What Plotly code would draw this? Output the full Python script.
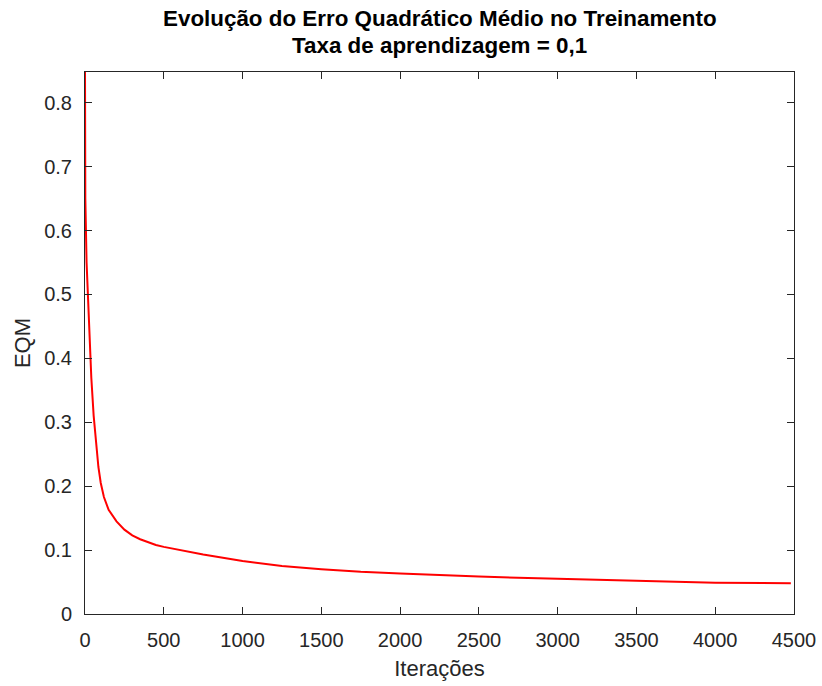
import plotly.graph_objects as go

iteracoes = [0, 2, 10, 20, 30, 40, 55, 70, 85, 100, 120, 150, 200, 250, 300, 350, 400, 450,
             500, 600, 750, 1000, 1250, 1500, 1750, 2000, 2500, 3000, 3500, 4000, 4480]
eqm = [0.848, 0.65, 0.55, 0.48, 0.42, 0.37, 0.31, 0.265, 0.23, 0.205, 0.183, 0.163,
       0.145, 0.132, 0.123, 0.117, 0.112, 0.108, 0.105, 0.100, 0.093, 0.083, 0.075, 0.070,
       0.066, 0.0635, 0.0585, 0.055, 0.052, 0.049, 0.048]

title_lines = ["Evolução do Erro Quadrático Médio no Treinamento",
               "Taxa de aprendizagem = 0,1"]
x_label = "Iterações"
y_label = "EQM"

FONT = "Liberation Sans, Arial, sans-serif"
AX = "#262626"
TOP, BOT = 72, 614
H = BOT - TOP

fig = go.Figure()
fig.add_trace(go.Scatter(x=iteracoes, y=eqm, mode="lines",
                         line=dict(color="#ff0000", width=2), showlegend=False))

axis_common = dict(showgrid=False, zeroline=False, showline=True, linecolor=AX,
                   linewidth=1, mirror="ticks", ticks="inside", ticklen=7,
                   tickcolor=AX, tickwidth=1, automargin=False,
                   ticklabeloverflow="allow",
                   tickfont=dict(family=FONT, size=20, color=AX))

for line_text, py in zip(title_lines, [18, 46]):
    fig.add_annotation(text="<b>" + line_text + "</b>", xref="paper", yref="paper",
                       x=0.5, y=(BOT - py) / H, xanchor="center", yanchor="middle",
                       showarrow=False, font=dict(family=FONT, size=22.4, color="black"))

fig.update_layout(
    width=822, height=686,
    margin=dict(l=85, r=28, t=TOP, b=686 - BOT),
    paper_bgcolor="white", plot_bgcolor="white",
    xaxis=dict(range=[0, 4500], dtick=500, tick0=0, ticklabelstandoff=8,
               title=dict(text=x_label, font=dict(family=FONT, size=22, color=AX), standoff=10),
               **axis_common),
    yaxis=dict(range=[0, 0.848], dtick=0.1, tick0=0, ticklabelstandoff=8,
               title=dict(text=y_label, font=dict(family=FONT, size=22, color=AX), standoff=7),
               **axis_common),
)

fig.write_html("out.html")
